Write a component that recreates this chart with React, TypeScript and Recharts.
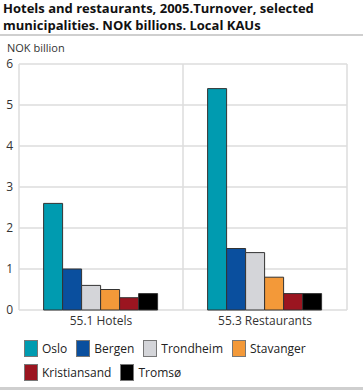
import { BarChart, Bar, XAxis, YAxis, CartesianGrid, Legend } from "recharts";

const categories = ["55.1 Hotels", "55.3 Restaurants"];
const cities = ["Oslo", "Bergen", "Trondheim", "Stavanger", "Kristiansand", "Tromsø"];
const oslo = [2.6, 5.4];
const bergen = [1.0, 1.5];
const trondheim = [0.6, 1.4];
const stavanger = [0.5, 0.8];
const kristiansand = [0.3, 0.4];
const tromso = [0.4, 0.4];
const yTicks = [0, 1, 2, 3, 4, 5, 6];

const COLORS: { [key: string]: string } = {
  Oslo: "#009bb0",
  Bergen: "#0a4f9e",
  Trondheim: "#d4d5d9",
  Stavanger: "#f39939",
  Kristiansand: "#9b1520",
  Tromsø: "#000000",
};

const seriesValues: { [key: string]: number[] } = {
  Oslo: oslo,
  Bergen: bergen,
  Trondheim: trondheim,
  Stavanger: stavanger,
  Kristiansand: kristiansand,
  Tromsø: tromso,
};

const data = categories.map((name, i) => {
  const row: { [key: string]: string | number } = { name };
  cities.forEach((c) => (row[c] = seriesValues[c][i]));
  return row;
});

const FONT = "'Open Sans', 'DejaVu Sans', sans-serif";

const renderLegend = () => {
  const rows = [cities.slice(0, 4), cities.slice(4)];
  return (
    <div style={{ fontFamily: FONT, fontSize: 12, color: "#222" }}>
      {rows.map((row, ri) => (
        <div key={ri} style={{ display: "flex", height: 24, alignItems: "center" }}>
          {row.map((c) => (
            <div key={c} style={{ display: "flex", alignItems: "center", marginRight: 9 }}>
              <span
                style={{
                  display: "inline-block",
                  width: 12,
                  height: 15,
                  background: COLORS[c],
                  border: "1px solid #777",
                  marginRight: 4,
                }}
              />
              <span>{c}</span>
            </div>
          ))}
        </div>
      ))}
    </div>
  );
};

export default function App() {
  return (
    <div
      style={{
        position: "absolute",
        left: 0,
        top: 0,
        width: 363,
        height: 390,
        background: "#fff",
        fontFamily: FONT,
        overflow: "hidden",
      }}
    >
      <div
        style={{
          position: "absolute",
          left: 3,
          top: 0,
          fontSize: 13,
          fontWeight: "bold",
          lineHeight: "17px",
          color: "#111",
          whiteSpace: "nowrap",
        }}
      >
        Hotels and restaurants, 2005.Turnover, selected
        <br />
        municipalities. NOK billions. Local KAUs
      </div>
      <div style={{ position: "absolute", left: 0, top: 34, width: 363, height: 2, background: "#cfcfcf" }} />
      <div style={{ position: "absolute", left: 7, top: 40, fontSize: 11, color: "#333" }}>NOK billion</div>
      <div style={{ position: "absolute", left: 0, top: 387, width: 363, height: 3, background: "#cfcfcf" }} />
      <BarChart
        width={363}
        height={390}
        data={data}
        margin={{ top: 64, right: 16, left: 0, bottom: 10 }}
        barCategoryGap="15%"
        barGap={0}
      >
        <CartesianGrid
          stroke="#dcdcdc"
          strokeWidth={1.5}
          verticalCoordinatesGenerator={({ offset }: any) => [
            offset.left,
            offset.left + offset.width / 2,
            offset.left + offset.width,
          ]}
        />
        <XAxis
          dataKey="name"
          axisLine={false}
          tickLine={false}
          tick={{ fontSize: 12, fill: "#333", fontFamily: FONT }}
          tickMargin={0}
          height={22}
        />
        <YAxis
          domain={[0, 6]}
          ticks={yTicks}
          width={19}
          axisLine={false}
          tickLine={false}
          tick={{ fontSize: 12, fill: "#333", fontFamily: FONT }}
          tickMargin={0}
        />
        <Legend
          content={renderLegend}
          wrapperStyle={{ position: "absolute", left: 24, top: 336, width: 340 }}
        />
        {cities.map((c) => (
          <Bar
            key={c}
            dataKey={c}
            fill={COLORS[c]}
            stroke="#333"
            strokeWidth={1}
            isAnimationActive={false}
          />
        ))}
      </BarChart>
    </div>
  );
}
